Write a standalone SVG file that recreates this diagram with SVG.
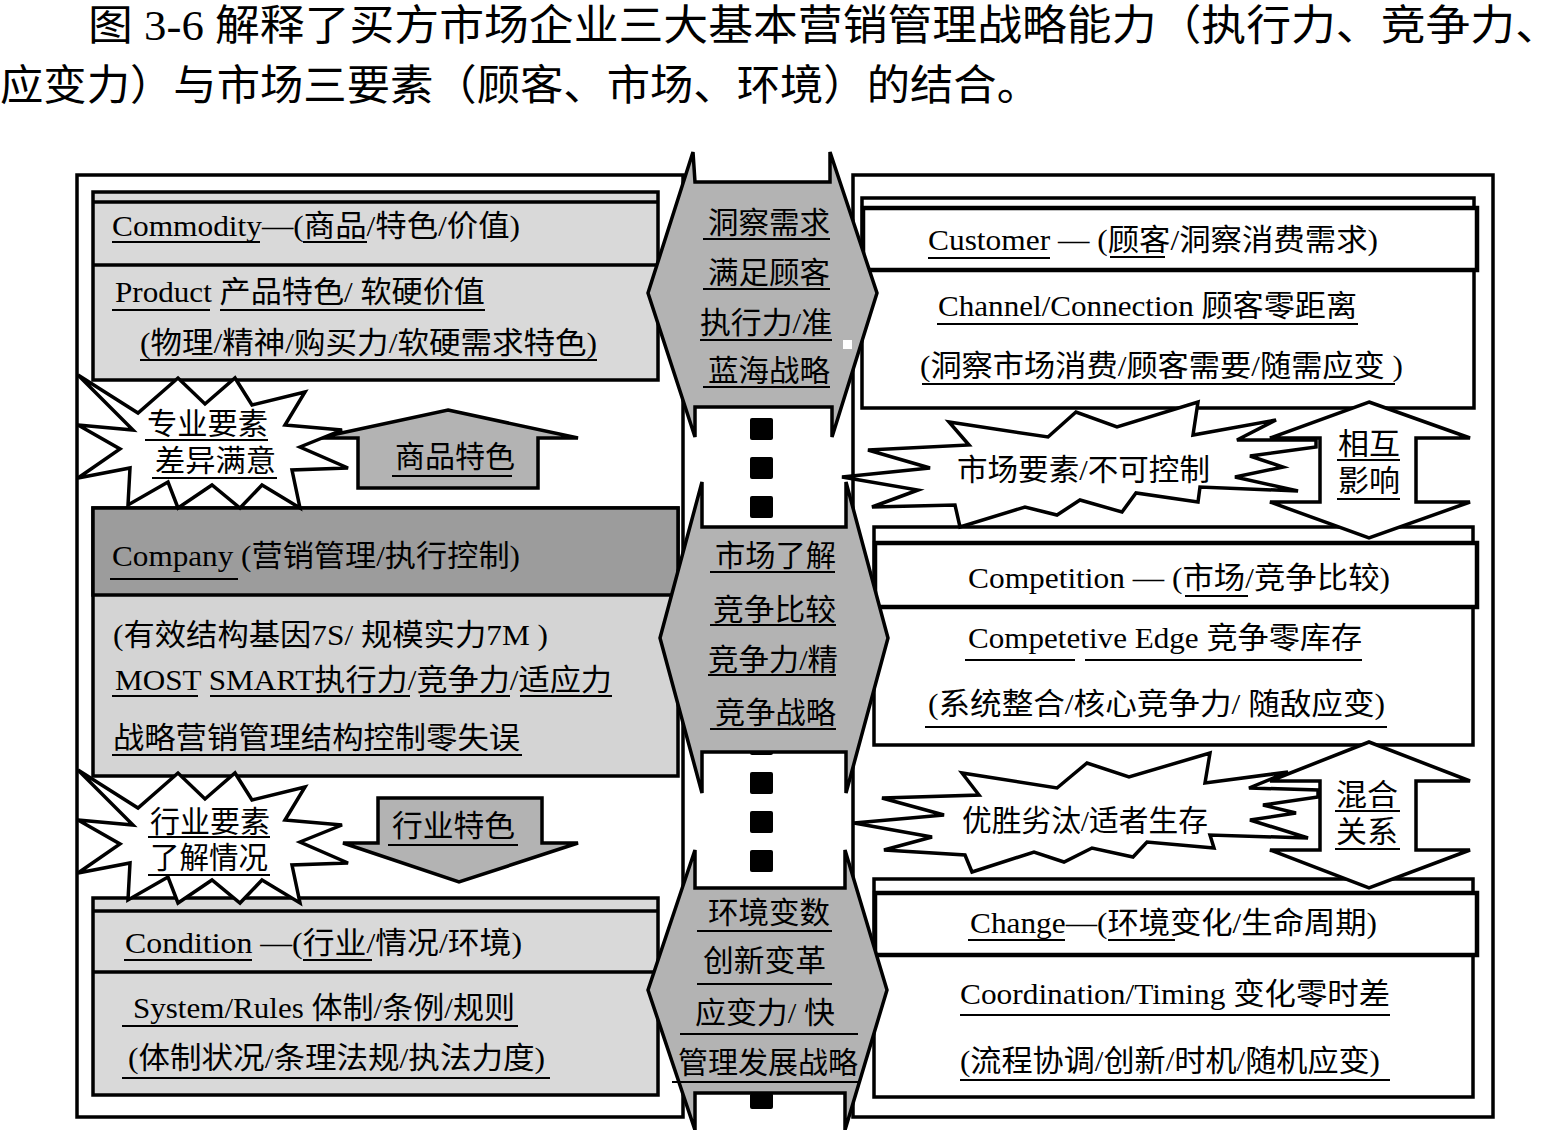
<svg xmlns="http://www.w3.org/2000/svg" width="1564" height="1130" viewBox="0 0 1564 1130">
<style>
.t{font-family:"Liberation Serif","Noto Sans CJK SC",serif;font-size:30px;fill:#000}
.h{font-family:"Liberation Serif","Noto Sans CJK SC",serif;font-size:42px;fill:#000}
.ul{stroke:#000;stroke-width:2}
.bx{stroke:#000;stroke-width:3.5}
.ln{stroke:#000;stroke-width:3.5}
.lg{fill:#d9d9d9}
.dg{fill:#9c9c9c}
.gr{fill:#b3b3b3;stroke:#000;stroke-width:3.5;stroke-linejoin:miter}
.wh{fill:#fff}
.st{fill:#fff;stroke:#000;stroke-width:3.5;stroke-linejoin:miter}
.sq{fill:#000}
</style>
<defs>
<polygon id="star" points="78,375 138,413 178,378 205,404 235,378 252,405 305,392 285,425 342,430 300,447 348,468 292,470 300,508 262,485 240,508 212,485 178,508 168,482 128,505 130,468 78,478 120,449 78,425 133,430"/>
</defs>
<rect width="1564" height="1130" fill="#fff"/>
<g id="header">
<text class="h" x="88" y="40" textLength="1472" lengthAdjust="spacingAndGlyphs">图 3-6 解释了买方市场企业三大基本营销管理战略能力（执行力、竞争力、</text>
<text class="h" x="0" y="100" textLength="1040" lengthAdjust="spacingAndGlyphs">应变力）与市场三要素（顾客、市场、环境）的结合。</text>
</g>
<g id="outer-boxes">
<rect id="left-panel" x="77" y="175" width="606" height="942" class="wh bx"/>
<rect id="right-panel" x="853" y="175" width="640" height="942" class="wh bx"/>
</g>
<g id="commodity">
<rect x="93" y="192" width="565" height="188" class="lg bx"/>
<line x1="93" y1="202" x2="658" y2="202" class="ln"/>
<line x1="93" y1="265" x2="658" y2="265" class="ln"/>
<text class="t" x="112" y="236" textLength="408" lengthAdjust="spacingAndGlyphs">Commodity—(商品/特色/价值)</text>
<line x1="112" y1="242" x2="260" y2="242" class="ul"/><line x1="303" y1="242" x2="367" y2="242" class="ul"/>
<text class="t" x="115" y="302" textLength="370" lengthAdjust="spacingAndGlyphs">Product 产品特色/ 软硬价值</text>
<line x1="112" y1="310" x2="210" y2="310" class="ul"/><line x1="220" y1="310" x2="485" y2="310" class="ul"/>
<text class="t" x="140" y="353" textLength="457" lengthAdjust="spacingAndGlyphs">(物理/精神/购买力/软硬需求特色)</text>
<line x1="140" y1="360" x2="597" y2="360" class="ul"/>
</g>
<g id="company">
<rect x="93" y="508" width="585" height="268" fill="#d4d4d4" class="bx"/>
<rect x="93" y="508" width="585" height="87" class="dg bx"/>
<text class="t" x="112" y="566" textLength="408" lengthAdjust="spacingAndGlyphs">Company (营销管理/执行控制)</text>
<line x1="110" y1="579" x2="238" y2="579" class="ul"/>
<text class="t" x="113" y="645" textLength="435" lengthAdjust="spacingAndGlyphs">(有效结构基因7S/ 规模实力7M )</text>
<text class="t" x="115" y="690" textLength="497" lengthAdjust="spacingAndGlyphs">MOST SMART执行力/竞争力/适应力</text>
<line x1="112" y1="696" x2="198" y2="696" class="ul"/><line x1="210" y1="696" x2="410" y2="696" class="ul"/><line x1="420" y1="696" x2="510" y2="696" class="ul"/><line x1="520" y1="696" x2="612" y2="696" class="ul"/>
<text class="t" x="113" y="748" textLength="407" lengthAdjust="spacingAndGlyphs">战略营销管理结构控制零失误</text>
<line x1="112" y1="755" x2="522" y2="755" class="ul"/>
</g>
<g id="condition">
<rect x="93" y="898" width="565" height="197" class="lg bx"/>
<line x1="93" y1="911" x2="658" y2="911" class="ln"/>
<line x1="93" y1="972" x2="658" y2="972" class="ln"/>
<text class="t" x="125" y="953" textLength="397" lengthAdjust="spacingAndGlyphs">Condition —(行业/情况/环境)</text>
<line x1="124" y1="960" x2="252" y2="960" class="ul"/><line x1="303" y1="960" x2="372" y2="960" class="ul"/>
<text class="t" x="133" y="1018" textLength="382" lengthAdjust="spacingAndGlyphs">System/Rules 体制/条例/规则</text>
<line x1="122" y1="1026" x2="518" y2="1026" class="ul"/>
<text class="t" x="128" y="1068" textLength="417" lengthAdjust="spacingAndGlyphs">(体制状况/条理法规/执法力度)</text>
<line x1="122" y1="1078" x2="550" y2="1078" class="ul"/>
</g>
<g id="customer">
<rect x="862" y="198" width="612" height="210" class="wh bx"/>
<rect x="863" y="208" width="614" height="62" class="wh" stroke="#000" stroke-width="4.5"/>
<text class="t" x="928" y="250" textLength="450" lengthAdjust="spacingAndGlyphs">Customer — (顾客/洞察消费需求)</text>
<line x1="928" y1="258" x2="1050" y2="258" class="ul"/><line x1="1110" y1="257" x2="1165" y2="257" class="ul"/>
<text class="t" x="938" y="316" textLength="419" lengthAdjust="spacingAndGlyphs">Channel/Connection 顾客零距离</text>
<line x1="937" y1="324" x2="1358" y2="324" class="ul"/>
<text class="t" x="920" y="376" textLength="483" lengthAdjust="spacingAndGlyphs">(洞察市场消费/顾客需要/随需应变 )</text>
<line x1="922" y1="384" x2="1395" y2="384" class="ul"/>
</g>
<g id="competition">
<rect x="874" y="527" width="599" height="218" class="wh bx"/>
<rect x="875" y="543" width="602" height="64" class="wh" stroke="#000" stroke-width="4.5"/>
<text class="t" x="968" y="588" textLength="422" lengthAdjust="spacingAndGlyphs">Competition — (市场/竞争比较)</text>
<line x1="1185" y1="596" x2="1248" y2="596" class="ul"/>
<text class="t" x="968" y="648" textLength="394" lengthAdjust="spacingAndGlyphs">Competetive Edge 竞争零库存</text>
<line x1="965" y1="660" x2="1075" y2="660" class="ul"/><line x1="1085" y1="660" x2="1362" y2="660" class="ul"/>
<text class="t" x="928" y="714" textLength="457" lengthAdjust="spacingAndGlyphs">(系统整合/核心竞争力/ 随敌应变)</text>
<line x1="925" y1="727" x2="1387" y2="727" class="ul"/>
</g>
<g id="change">
<rect x="874" y="879" width="599" height="218" class="wh bx"/>
<rect x="875" y="893" width="602" height="62" class="wh" stroke="#000" stroke-width="4.5"/>
<text class="t" x="970" y="933" textLength="407" lengthAdjust="spacingAndGlyphs">Change—(环境变化/生命周期)</text>
<line x1="968" y1="940" x2="1065" y2="940" class="ul"/><line x1="1108" y1="940" x2="1175" y2="940" class="ul"/>
<text class="t" x="960" y="1004" textLength="430" lengthAdjust="spacingAndGlyphs">Coordination/Timing 变化零时差</text>
<line x1="960" y1="1015" x2="1390" y2="1015" class="ul"/>
<text class="t" x="960" y="1071" textLength="420" lengthAdjust="spacingAndGlyphs">(流程协调/创新/时机/随机应变)</text>
<line x1="960" y1="1080" x2="1390" y2="1080" class="ul"/>
</g>
<g id="connectors">
<g id="film-squares">
<rect x="750" y="418" width="23" height="22" rx="2" class="sq"/>
<rect x="750" y="457" width="23" height="22" rx="2" class="sq"/>
<rect x="750" y="496" width="23" height="22" rx="2" class="sq"/>
<rect x="750" y="733" width="23" height="22" rx="2" class="sq"/>
<rect x="750" y="772" width="23" height="22" rx="2" class="sq"/>
<rect x="750" y="811" width="23" height="22" rx="2" class="sq"/>
<rect x="750" y="850" width="23" height="22" rx="2" class="sq"/>
<rect x="750" y="1093" width="23" height="16" rx="2" class="sq"/>
</g>
<g id="arrow-commodity">
<polygon points="448,410 578,438 538,438 538,488 358,488 358,438 318,438" class="gr"/>
<text class="t" x="395" y="467" textLength="120" lengthAdjust="spacingAndGlyphs">商品特色</text>
<line x1="392" y1="476" x2="512" y2="476" class="ul"/>
</g>
<g id="arrow-industry">
<polygon points="378,798 542,798 542,843 578,843 459,882 343,843 378,843" class="gr"/>
<text class="t" x="392" y="836" textLength="123" lengthAdjust="spacingAndGlyphs">行业特色</text>
<line x1="388" y1="845" x2="518" y2="845" class="ul"/>
</g>
<g id="arrow-mutual">
<polygon points="1369,402 1470,438 1416,438 1416,502 1470,502 1369,538 1270,502 1320,502 1320,438 1270,438" class="st"/>
</g>
<g id="arrow-mixed">
<polygon points="1369,742 1470,781 1416,781 1416,850 1470,850 1369,888 1270,850 1320,850 1320,781 1270,781" class="st"/>
</g>
</g>
<g id="hex-execution">
<polygon points="693,152 695,182 830,182 830,152 877,293 832,437 832,407 695,407 695,437 648,293" class="gr"/>
<rect x="843" y="340" width="9" height="9" fill="#fff"/>
<text class="t" x="708" y="233" textLength="122" lengthAdjust="spacingAndGlyphs">洞察需求</text>
<line x1="703" y1="239" x2="830" y2="239" class="ul"/>
<text class="t" x="708" y="283" textLength="122" lengthAdjust="spacingAndGlyphs">满足顾客</text>
<line x1="703" y1="289" x2="830" y2="289" class="ul"/>
<text class="t" x="700" y="333" textLength="132" lengthAdjust="spacingAndGlyphs">执行力/准</text>
<line x1="700" y1="340" x2="832" y2="340" class="ul"/>
<text class="t" x="708" y="381" textLength="122" lengthAdjust="spacingAndGlyphs">蓝海战略</text>
<line x1="703" y1="387" x2="830" y2="387" class="ul"/>
</g>
<g id="hex-competition">
<polygon points="702,482 702,527 846,527 846,482 888,638 846,793 846,752 702,752 702,793 660,638" class="gr"/>
<text class="t" x="715" y="566" textLength="121" lengthAdjust="spacingAndGlyphs">市场了解</text>
<line x1="710" y1="572" x2="835" y2="572" class="ul"/>
<text class="t" x="713" y="620" textLength="123" lengthAdjust="spacingAndGlyphs">竞争比较</text>
<line x1="710" y1="625" x2="836" y2="625" class="ul"/>
<text class="t" x="708" y="670" textLength="130" lengthAdjust="spacingAndGlyphs">竞争力/精</text>
<line x1="708" y1="675" x2="836" y2="675" class="ul"/>
<text class="t" x="715" y="723" textLength="121" lengthAdjust="spacingAndGlyphs">竞争战略</text>
<line x1="710" y1="729" x2="836" y2="729" class="ul"/>
</g>
<g id="hex-adaptation">
<polygon points="695,850 695,888 845,888 845,850 887,990 845,1130 845,1093 695,1093 695,1130 648,990" class="gr"/>
<text class="t" x="708" y="923" textLength="122" lengthAdjust="spacingAndGlyphs">环境变数</text>
<line x1="697" y1="931" x2="832" y2="931" class="ul"/>
<text class="t" x="703" y="971" textLength="123" lengthAdjust="spacingAndGlyphs">创新变革</text>
<line x1="697" y1="984" x2="832" y2="984" class="ul"/>
<text class="t" x="695" y="1023" textLength="140" lengthAdjust="spacingAndGlyphs">应变力/ 快</text>
<line x1="680" y1="1034" x2="858" y2="1034" class="ul"/>
<text class="t" x="678" y="1073" textLength="180" lengthAdjust="spacingAndGlyphs">管理发展战略</text>
<line x1="672" y1="1082" x2="860" y2="1082" class="ul"/>
</g>
<g id="star-professional">
<use href="#star" class="st"/>
<text class="t" x="147" y="434" textLength="121" lengthAdjust="spacingAndGlyphs">专业要素</text>
<line x1="145" y1="440" x2="268" y2="440" class="ul"/>
<text class="t" x="155" y="471" textLength="121" lengthAdjust="spacingAndGlyphs">差异满意</text>
<line x1="152" y1="478" x2="277" y2="478" class="ul"/>
</g>
<g id="star-industry">
<use href="#star" class="st" transform="translate(0,395)"/>
<text class="t" x="150" y="832" textLength="120" lengthAdjust="spacingAndGlyphs">行业要素</text>
<line x1="148" y1="837" x2="270" y2="837" class="ul"/>
<text class="t" x="150" y="868" textLength="118" lengthAdjust="spacingAndGlyphs">了解情况</text>
<line x1="148" y1="875" x2="270" y2="875" class="ul"/>
</g>
<g id="burst-market">
<polygon points="842,477 930,468 868,450 969,445 949,422 1048,437 1076,412 1117,427 1198,402 1193,435 1276,420 1237,440 1316,440 1316,447 1250,456 1283,467 1235,477 1298,491 1200,487 1198,502 1136,493 1122,512 1080,500 1057,515 1025,507 960,527 955,505 872,507 918,490" class="st"/>
<text class="t" x="957" y="480" textLength="253" lengthAdjust="spacingAndGlyphs">市场要素/不可控制</text>
</g>
<g id="mutual-label">
<text class="t" x="1338" y="454" textLength="62" lengthAdjust="spacingAndGlyphs">相互</text>
<line x1="1337" y1="460" x2="1400" y2="460" class="ul"/>
<text class="t" x="1338" y="491" textLength="62" lengthAdjust="spacingAndGlyphs">影响</text>
<line x1="1337" y1="499" x2="1400" y2="499" class="ul"/>
</g>
<g id="burst-survival">
<polygon points="854,823 944,815 882,798 979,795 962,773 1057,788 1087,763 1129,777 1210,753 1205,783 1288,772 1249,788 1318,790 1318,797 1263,805 1296,813 1250,820 1308,838 1210,835 1214,848 1147,842 1133,857 1092,848 1064,862 1034,852 972,872 965,855 884,850 932,837" class="st"/>
<text class="t" x="962" y="831" textLength="246" lengthAdjust="spacingAndGlyphs">优胜劣汰/适者生存</text>
</g>
<g id="mixed-label">
<text class="t" x="1336" y="805" textLength="62" lengthAdjust="spacingAndGlyphs">混合</text>
<line x1="1335" y1="811" x2="1400" y2="811" class="ul"/>
<text class="t" x="1336" y="842" textLength="62" lengthAdjust="spacingAndGlyphs">关系</text>
<line x1="1335" y1="849" x2="1400" y2="849" class="ul"/>
</g>
</svg>
